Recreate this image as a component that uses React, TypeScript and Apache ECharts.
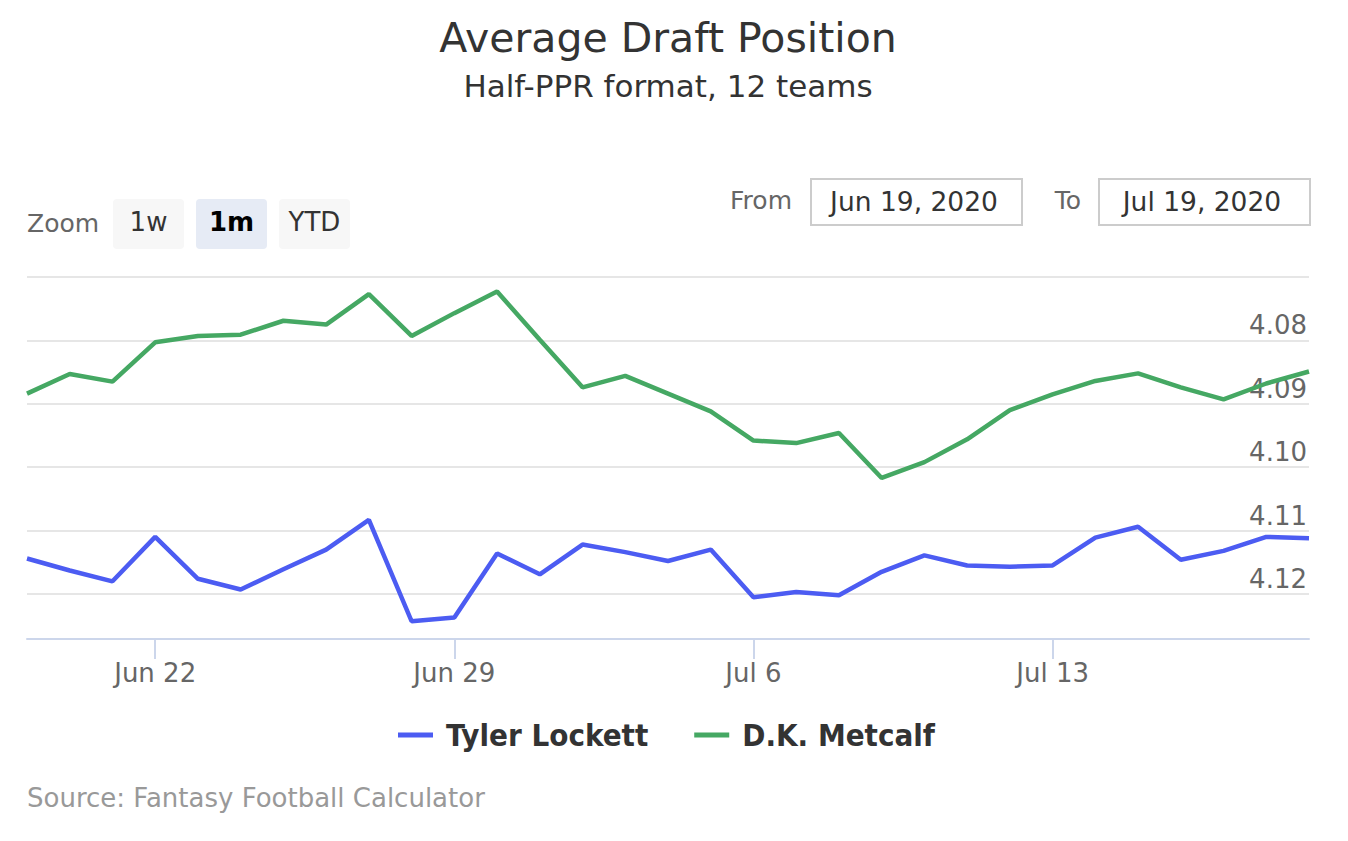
import React, { useEffect, useRef } from "react";
import * as echarts from "echarts";

const categories = [
  "Jun 19", "Jun 20", "Jun 21", "Jun 22", "Jun 23", "Jun 24", "Jun 25", "Jun 26",
  "Jun 27", "Jun 28", "Jun 29", "Jun 30", "Jul 1", "Jul 2", "Jul 3", "Jul 4",
  "Jul 5", "Jul 6", "Jul 7", "Jul 8", "Jul 9", "Jul 10", "Jul 11", "Jul 12",
  "Jul 13", "Jul 14", "Jul 15", "Jul 16", "Jul 17", "Jul 18", "Jul 19",
];

const tylerLockett = [
  4.1144, 4.1163, 4.118, 4.111, 4.1176, 4.1193, 4.1161, 4.113,
  4.1083, 4.1243, 4.1237, 4.1136, 4.1169, 4.1122, 4.1134, 4.1148,
  4.113, 4.1205, 4.1197, 4.1202, 4.1165, 4.1139, 4.1155, 4.1157,
  4.1155, 4.1111, 4.1094, 4.1146, 4.1132, 4.111, 4.1112,
];

const dkMetcalf = [
  4.0884, 4.0853, 4.0865, 4.0803, 4.0793, 4.0791, 4.0769, 4.0775,
  4.0727, 4.0793, 4.0757, 4.0723, 4.0799, 4.0874, 4.0856, 4.0884,
  4.0912, 4.0958, 4.0962, 4.0946, 4.1017, 4.0992, 4.0956, 4.091,
  4.0885, 4.0864, 4.0852, 4.0874, 4.0893, 4.0868, 4.0849,
];

const tickLabels = ["Jun 22", "Jun 29", "Jul 6", "Jul 13"];

const FONT = "DejaVu Sans";

export default function App() {
  const ref = useRef<HTMLDivElement>(null);

  useEffect(() => {
    document.body.style.margin = "0";
    if (!ref.current) return;
    const chart = echarts.init(ref.current, null, { renderer: "svg" });
    const showTick = (_i: number, v: string) => tickLabels.includes(v);

    chart.setOption({
      animation: false,
      backgroundColor: "#ffffff",
      textStyle: { fontFamily: FONT },
      grid: { left: 27, right: 39, top: 277, bottom: 202 },
      legend: {
        left: 398,
        top: 718,
        padding: 0,
        icon: "rect",
        itemWidth: 35,
        itemHeight: 5,
        itemGap: 46,
        textStyle: {
          fontFamily: "DejaVu Sans Condensed",
          fontWeight: "bold",
          fontSize: 31,
          color: "#333333",
          lineHeight: 34,
          padding: [0, 0, 0, 8],
        },
        data: ["Tyler Lockett", "D.K. Metcalf"],
      },
      xAxis: {
        type: "category",
        data: categories,
        boundaryGap: false,
        axisLine: { lineStyle: { color: "#ccd6eb", width: 2 } },
        axisTick: {
          show: true,
          interval: showTick,
          length: 20,
          lineStyle: { color: "#ccd6eb", width: 2 },
        },
        axisLabel: {
          interval: showTick,
          color: "#666666",
          fontSize: 26,
          fontFamily: FONT,
          margin: 34,
          verticalAlign: "middle",
        },
        splitLine: { show: false },
      },
      yAxis: {
        type: "value",
        position: "right",
        inverse: true,
        min: 4.07,
        max: 4.1271,
        interval: 0.01,
        axisLine: { show: false },
        axisTick: { show: false },
        splitLine: { lineStyle: { color: "#e6e6e6", width: 2 } },
        axisLabel: {
          inside: true,
          margin: 2,
          color: "#666666",
          fontSize: 26,
          fontFamily: FONT,
          verticalAlign: "bottom",
          lineHeight: 30,
          showMinLabel: false,
          showMaxLabel: false,
          formatter: (v: number) => {
            const r = Math.round(v * 100);
            if (Math.abs(v * 100 - r) > 1e-6) return "";
            if (v < 4.075 || v > 4.125) return "";
            return v.toFixed(2);
          },
        },
      },
      series: [
        {
          name: "Tyler Lockett",
          type: "line",
          data: tylerLockett,
          showSymbol: false,
          color: "#4c5cf2",
          lineStyle: { width: 4.5, color: "#4c5cf2" },
        },
        {
          name: "D.K. Metcalf",
          type: "line",
          data: dkMetcalf,
          showSymbol: false,
          color: "#45a863",
          lineStyle: { width: 4.5, color: "#45a863" },
        },
      ],
      graphic: [
        {
          type: "text",
          x: 668,
          y: 38,
          style: {
            text: "Average Draft Position",
            fontFamily: FONT,
            fontSize: 41,
            fill: "#333333",
            align: "center",
            verticalAlign: "middle",
          },
        },
        {
          type: "text",
          x: 668,
          y: 86,
          style: {
            text: "Half-PPR format, 12 teams",
            fontFamily: FONT,
            fontSize: 31,
            fill: "#333333",
            align: "center",
            verticalAlign: "middle",
          },
        },
        {
          type: "text",
          x: 27,
          y: 223,
          style: {
            text: "Zoom",
            fontFamily: FONT,
            fontSize: 25,
            fill: "#666666",
            align: "left",
            verticalAlign: "middle",
          },
        },
        {
          type: "rect",
          shape: { x: 113, y: 199, width: 71, height: 50, r: 4 },
          style: { fill: "#f7f7f7" },
        },
        {
          type: "rect",
          shape: { x: 196, y: 199, width: 71, height: 50, r: 4 },
          style: { fill: "#e6ebf5" },
        },
        {
          type: "rect",
          shape: { x: 279, y: 199, width: 71, height: 50, r: 4 },
          style: { fill: "#f7f7f7" },
        },
        {
          type: "text",
          x: 148.5,
          y: 222,
          style: {
            text: "1w",
            fontFamily: FONT,
            fontSize: 26,
            fill: "#333333",
            align: "center",
            verticalAlign: "middle",
          },
        },
        {
          type: "text",
          x: 231.5,
          y: 222,
          style: {
            text: "1m",
            fontFamily: FONT,
            fontSize: 26,
            fontWeight: "bold",
            fill: "#000000",
            align: "center",
            verticalAlign: "middle",
          },
        },
        {
          type: "text",
          x: 314.5,
          y: 222,
          style: {
            text: "YTD",
            fontFamily: FONT,
            fontSize: 26,
            fill: "#333333",
            align: "center",
            verticalAlign: "middle",
          },
        },
        {
          type: "text",
          x: 792,
          y: 200,
          style: {
            text: "From",
            fontFamily: FONT,
            fontSize: 25,
            fill: "#666666",
            align: "right",
            verticalAlign: "middle",
          },
        },
        {
          type: "rect",
          shape: { x: 811, y: 179, width: 211, height: 46 },
          style: { fill: "#ffffff", stroke: "#cccccc", lineWidth: 2 },
        },
        {
          type: "text",
          x: 914,
          y: 201,
          style: {
            text: "Jun 19, 2020",
            fontFamily: FONT,
            fontSize: 26.5,
            fill: "#333333",
            align: "center",
            verticalAlign: "middle",
          },
        },
        {
          type: "text",
          x: 1081,
          y: 200,
          style: {
            text: "To",
            fontFamily: FONT,
            fontSize: 25,
            fill: "#666666",
            align: "right",
            verticalAlign: "middle",
          },
        },
        {
          type: "rect",
          shape: { x: 1099, y: 179, width: 211, height: 46 },
          style: { fill: "#ffffff", stroke: "#cccccc", lineWidth: 2 },
        },
        {
          type: "text",
          x: 1202,
          y: 201,
          style: {
            text: "Jul 19, 2020",
            fontFamily: FONT,
            fontSize: 26.5,
            fill: "#333333",
            align: "center",
            verticalAlign: "middle",
          },
        },
        {
          type: "text",
          x: 27,
          y: 798,
          style: {
            text: "Source: Fantasy Football Calculator",
            fontFamily: FONT,
            fontSize: 26,
            fill: "#999999",
            align: "left",
            verticalAlign: "middle",
          },
        },
      ],
    });

    return () => chart.dispose();
  }, []);

  return <div ref={ref} style={{ width: 1348, height: 841 }} />;
}
